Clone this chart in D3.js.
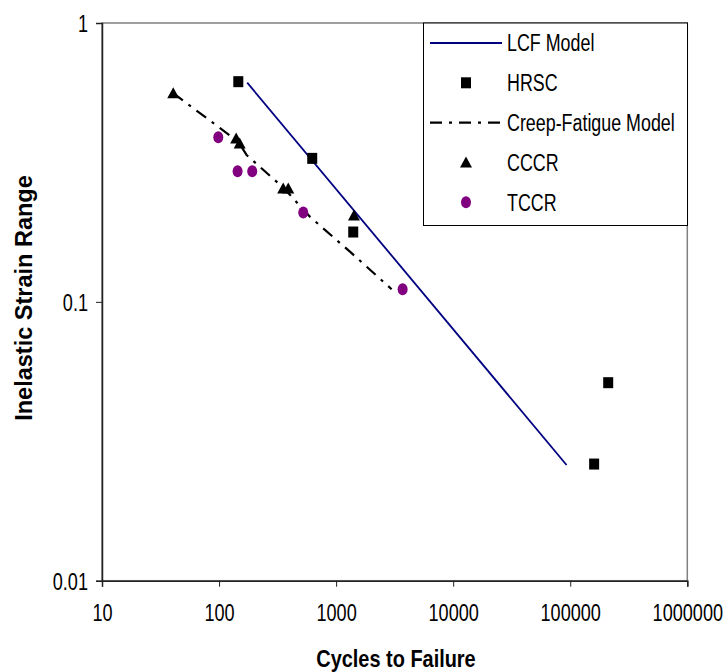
<!DOCTYPE html>
<html>
<head>
<meta charset="utf-8">
<script src="https://cdn.jsdelivr.net/npm/d3@7"></script>
<style>
  html, body { margin: 0; padding: 0; background: #fff; }
  text { font-family: "Liberation Sans", Arial, sans-serif; fill: #000; }
</style>
</head>
<body>
<div id="chart"></div>
<script>
const xTicks = [10, 100, 1000, 10000, 100000, 1000000];
const yTicks = [0.01, 0.1, 1];

// [cycles, strain range]
const lcfModel = [[174, 0.611], [93000, 0.026]];
const hrsc = [[146, 0.616], [625, 0.327], [1400, 0.178], [160000, 0.0262], [211000, 0.0513]];
const creepModel = [[40.6, 0.56], [146, 0.375], [172, 0.336], [360, 0.255], [597, 0.202], [1320, 0.151], [2980, 0.111]];
const cccr = [[40.6, 0.56], [140, 0.385], [150, 0.37], [353, 0.255], [390, 0.255], [1420, 0.204]];
const tccr = [[98.5, 0.389], [144, 0.294], [192, 0.294], [524, 0.209], [3700, 0.111]];

const legendItems = ["LCF Model", "HRSC", "Creep-Fatigue Model", "CCCR", "TCCR"];

const width = 728, height = 672;
const plotLeft = 102, plotRight = 687.3, plotTop = 23, plotBottom = 580.7;

const svg = d3.select("#chart").append("svg")
  .attr("width", width)
  .attr("height", height);

const x = d3.scaleLog().domain([10, 1000000]).range([plotLeft, plotRight]);
const y = d3.scaleLog().domain([0.01, 1]).range([plotBottom, plotTop]);

// squeeze text horizontally like the original
function squeeze(sel, ratio) {
  sel.each(function () {
    const w = this.getComputedTextLength();
    d3.select(this).attr("textLength", w * ratio).attr("lengthAdjust", "spacingAndGlyphs");
  });
}

// plot frame
svg.append("rect")
  .attr("x", plotLeft).attr("y", plotTop)
  .attr("width", plotRight - plotLeft).attr("height", plotBottom - plotTop)
  .attr("fill", "#fff")
  .attr("stroke", "#808080")
  .attr("stroke-width", 1.5);

// axes
const xAxis = svg.append("g")
  .attr("transform", `translate(0,${plotBottom})`)
  .call(d3.axisBottom(x).tickValues(xTicks).tickSize(6).tickFormat(d3.format("d")));
const yAxis = svg.append("g")
  .attr("transform", `translate(${plotLeft},0)`)
  .call(d3.axisLeft(y).tickValues(yTicks).tickSize(6).tickFormat(d => String(d)));

[xAxis, yAxis].forEach(g => {
  g.select(".domain").attr("stroke", "#222").attr("stroke-width", 1.5);
  g.selectAll(".tick line").attr("stroke", "#222").attr("stroke-width", 1);
  g.selectAll("text").attr("font-size", 23.5).attr("fill", "#000")
    .style("font-family", '"Liberation Sans", Arial, sans-serif');
});
xAxis.selectAll("text").attr("dy", null).attr("y", 40);
yAxis.selectAll("text").attr("x", -14).attr("dy", "0.36em");
squeeze(xAxis.selectAll("text"), 0.77);
squeeze(yAxis.selectAll("text"), 0.77);

// axis titles
const xTitle = svg.append("text")
  .attr("x", 396).attr("y", 667)
  .attr("text-anchor", "middle")
  .attr("font-size", 24).attr("font-weight", "bold")
  .text("Cycles to Failure");
squeeze(xTitle, 0.83);

svg.append("text")
  .attr("transform", "translate(32,298) rotate(-90)")
  .attr("text-anchor", "middle")
  .attr("font-size", 23.5).attr("font-weight", "bold")
  .text("Inelastic Strain Range");

// series
const line = d3.line().x(d => x(d[0])).y(d => y(d[1]));

svg.append("path")
  .datum(lcfModel)
  .attr("d", line)
  .attr("fill", "none")
  .attr("stroke", "#000080")
  .attr("stroke-width", 1.8);

svg.append("path")
  .datum(creepModel)
  .attr("d", line)
  .attr("fill", "none")
  .attr("stroke", "#000")
  .attr("stroke-width", 2.2)
  .attr("stroke-dasharray", "12,7,3,7");

function square(g, cx, cy) {
  g.append("rect").attr("x", cx - 5).attr("y", cy - 5.5)
    .attr("width", 10).attr("height", 11).attr("fill", "#000");
}
function triangle(g, cx, cy) {
  g.append("path")
    .attr("d", `M${cx},${cy - 6}L${cx + 6},${cy + 5}L${cx - 6},${cy + 5}Z`)
    .attr("fill", "#000");
}
function dot(g, cx, cy) {
  g.append("ellipse").attr("cx", cx).attr("cy", cy)
    .attr("rx", 5).attr("ry", 6).attr("fill", "#800080");
}

const marks = svg.append("g");
hrsc.forEach(d => square(marks, x(d[0]), y(d[1])));
cccr.forEach(d => triangle(marks, x(d[0]), y(d[1])));
tccr.forEach(d => dot(marks, x(d[0]), y(d[1])));

// legend
const lg = svg.append("g");
lg.append("rect")
  .attr("x", 423.5).attr("y", 23)
  .attr("width", 264).attr("height", 202.5)
  .attr("fill", "#fff")
  .attr("stroke", "#000")
  .attr("stroke-width", 1);

legendItems.forEach((name, i) => {
  const ly = 43 + i * 39.8;
  if (i === 0) {
    lg.append("line").attr("x1", 430).attr("x2", 502).attr("y1", ly).attr("y2", ly)
      .attr("stroke", "#000080").attr("stroke-width", 1.8);
  } else if (i === 1) {
    square(lg, 466, ly);
  } else if (i === 2) {
    lg.append("line").attr("x1", 430).attr("x2", 502).attr("y1", ly).attr("y2", ly)
      .attr("stroke", "#000").attr("stroke-width", 2.2)
      .attr("stroke-dasharray", "12,7,3,7");
  } else if (i === 3) {
    triangle(lg, 466, ly);
  } else {
    dot(lg, 466, ly);
  }
  const t = lg.append("text")
    .attr("x", 507).attr("y", ly)
    .attr("dy", "0.36em")
    .attr("font-size", 23.5)
    .text(name);
  squeeze(t, 0.76);
});
</script>
</body>
</html>
